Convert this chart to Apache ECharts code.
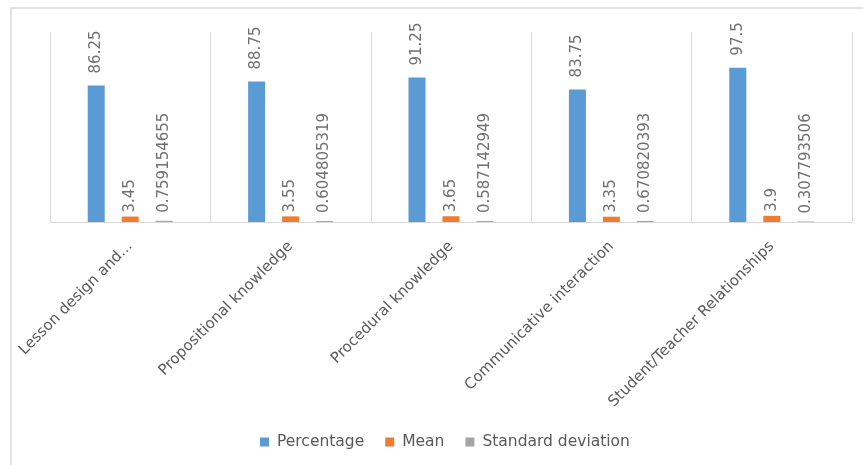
<!DOCTYPE html>
<html>
<head>
<meta charset="utf-8">
<script src="https://cdn.jsdelivr.net/npm/echarts@6/dist/echarts.min.js"></script>
<style>
html,body{margin:0;padding:0;background:#fff;}
#chart{width:863px;height:465px;}
</style>
</head>
<body>
<div id="chart"></div>
<script>
const categories = ["Lesson design and...", "Propositional knowledge", "Procedural knowledge", "Communicative interaction", "Student/Teacher Relationships"];
const percentage = [86.25, 88.75, 91.25, 83.75, 97.5];
const mean = [3.45, 3.55, 3.65, 3.35, 3.9];
const stdDev = [0.759154655, 0.604805319, 0.587142949, 0.670820393, 0.307793506];
const seriesNames = ["Percentage", "Mean", "Standard deviation"];

const chart = echarts.init(document.getElementById('chart'), null, {renderer: 'canvas'});
const labelBase = {
  show: true, position: 'top', rotate: 90, align: 'left', verticalAlign: 'middle',
  fontFamily: 'DejaVu Sans', fontSize: 15, color: '#707070'
};
chart.setOption({
  animation: false,
  backgroundColor: '#ffffff',
  graphic: [{
    type: 'rect', silent: true,
    shape: {x: 11, y: 8, width: 900, height: 500},
    style: {fill: 'none', stroke: '#d9d9d9', lineWidth: 1.5}
  }],
  grid: {left: 50, right: 11, top: 32, bottom: 243, containLabel: false},
  legend: {
    data: seriesNames, left: 255, top: 429, icon: 'rect',
    itemWidth: 9, itemHeight: 9, itemGap: 21,
    textStyle: {fontFamily: 'DejaVu Sans', fontSize: 15.5, color: '#595959', padding: [0, 0, 0, 3]}
  },
  xAxis: {
    type: 'category', data: categories,
    axisLine: {show: true, lineStyle: {color: '#d9d9d9', width: 1}},
    axisTick: {show: false},
    splitLine: {show: true, lineStyle: {color: '#d9d9d9', width: 1}},
    axisLabel: {interval: 0, rotate: 45, margin: 22, fontFamily: 'DejaVu Sans', fontSize: 15, color: '#595959'}
  },
  yAxis: {
    type: 'value', min: 0, max: 120, show: false,
    splitLine: {show: false}
  },
  series: [
    {name: seriesNames[0], type: 'bar', data: percentage, barWidth: 17, barGap: '100%',
     itemStyle: {color: '#5b9bd5'}, label: Object.assign({}, labelBase, {distance: 12})},
    {name: seriesNames[1], type: 'bar', data: mean, barWidth: 17, barGap: '100%',
     itemStyle: {color: '#ed7d31'}, label: Object.assign({}, labelBase, {distance: 4})},
    {name: seriesNames[2], type: 'bar', data: stdDev, barWidth: 17, barGap: '100%',
     itemStyle: {color: '#a5a5a5'}, label: Object.assign({}, labelBase, {distance: 8})}
  ]
});
</script>
</body>
</html>
